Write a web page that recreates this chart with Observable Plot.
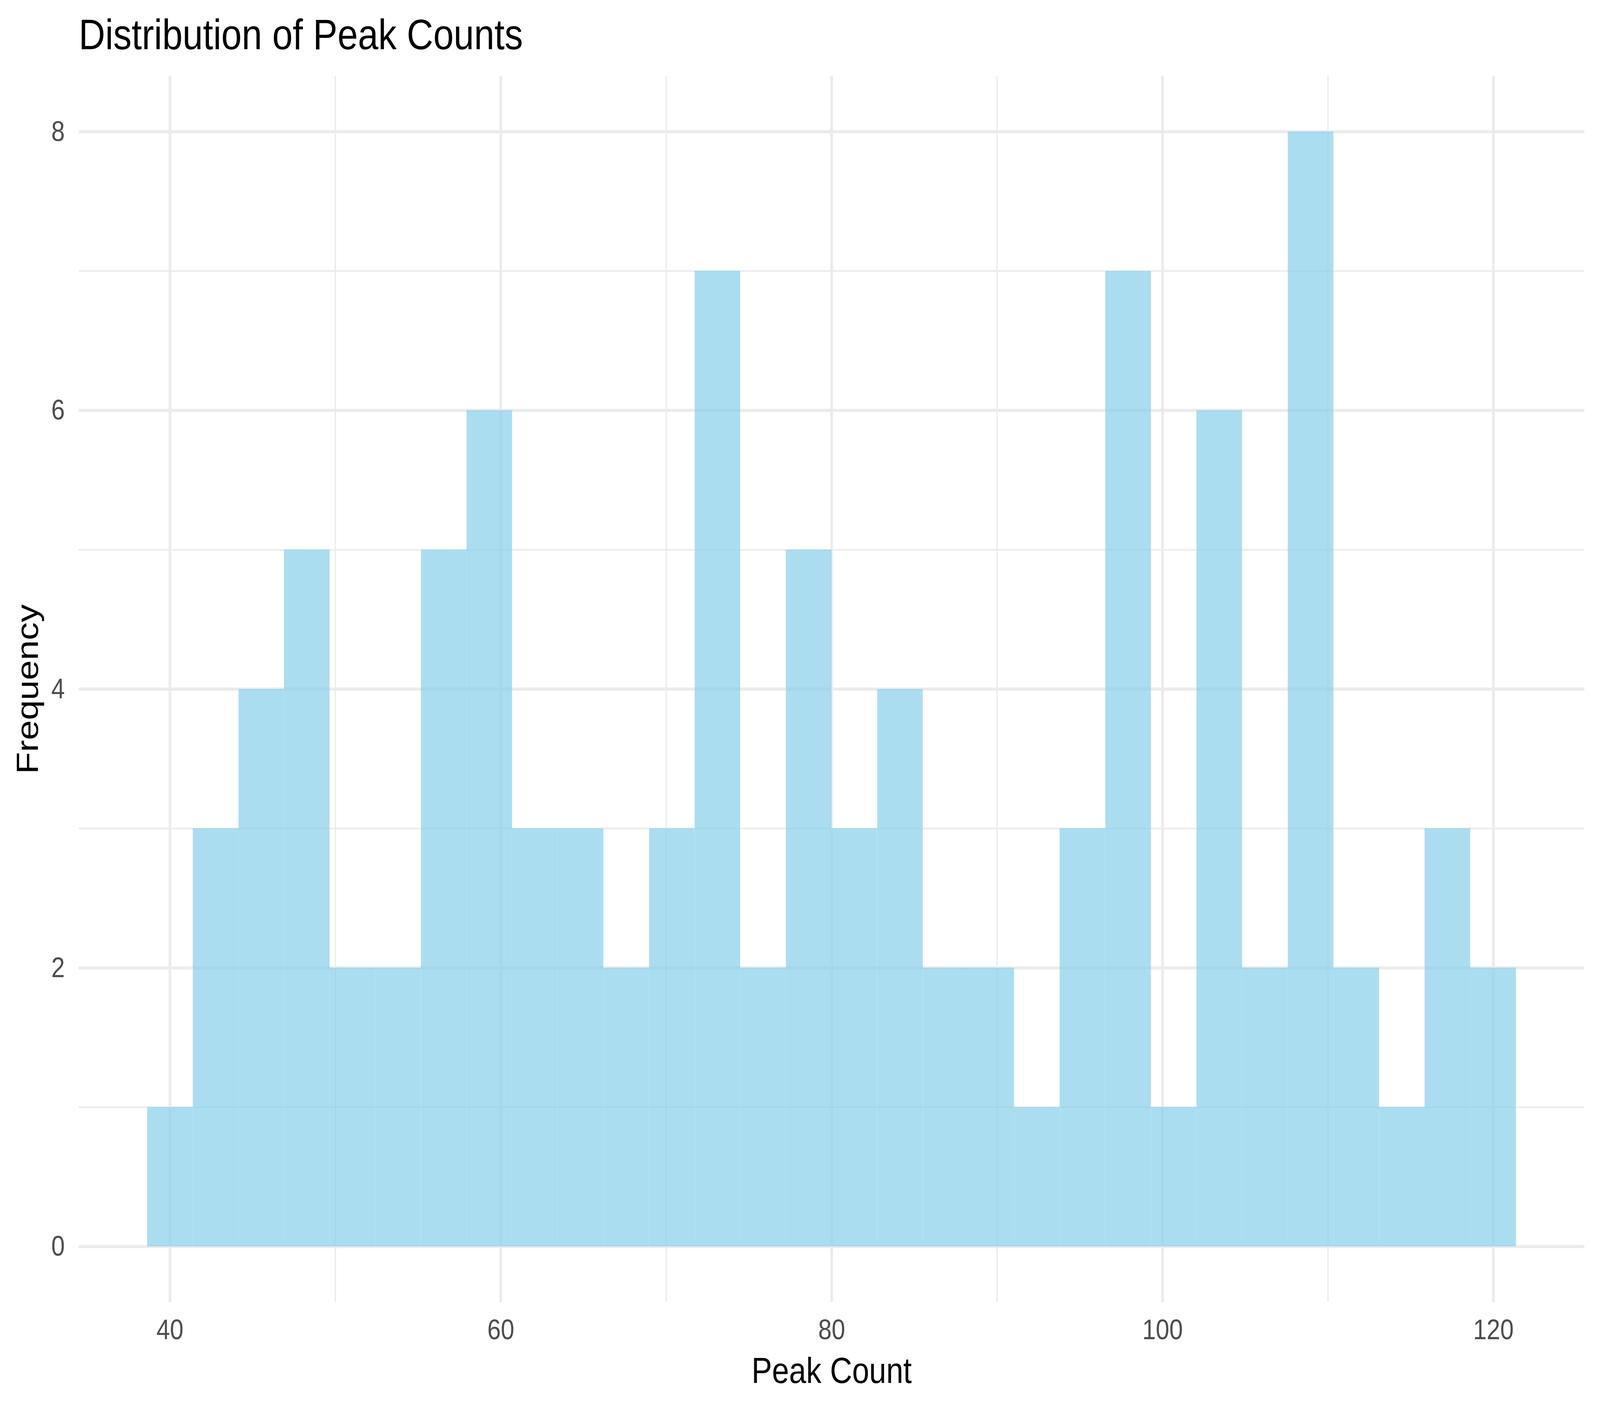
<!DOCTYPE html>
<html>
<head>
<meta charset="utf-8">
<script src="https://cdn.jsdelivr.net/npm/d3@7"></script>
<script src="https://cdn.jsdelivr.net/npm/@observablehq/plot@0.6"></script>
<style>
  html, body { margin: 0; padding: 0; background: #ffffff; overflow: hidden; }
  #page { position: absolute; left: 0; top: 0; width: 4800px; height: 3600px; background: #ffffff; transform-origin: 0 0; }
  #title {
    position: absolute;
    left: 236px;
    top: 33px;
    margin: 0;
    padding: 0;
    font-family: "Liberation Sans", Arial, Helvetica, sans-serif;
    font-size: 110px;
    font-weight: normal;
    line-height: 110px;
    height: 110px;
    color: #000000;
    white-space: nowrap;
  }
  #chart { position: absolute; left: 0; top: 160px; width: 4800px; height: 3440px; }
  #chart svg { display: block; max-width: none; }
</style>
</head>
<body>
<div id="page">
<div id="title"></div>
<div id="chart"></div>
</div>
<script>
// Histogram bin edges (30 bins)
const binEdges = [38.63, 41.39, 44.15, 46.90, 49.66, 52.42, 55.18, 57.94, 60.69, 63.45,
                  66.21, 68.97, 71.73, 74.48, 77.24, 80.00, 82.76, 85.52, 88.27, 91.03,
                  93.79, 96.55, 99.31, 102.06, 104.82, 107.58, 110.34, 113.10, 115.85, 118.61,
                  121.37];
// Frequency of each bin
const binCounts = [1, 3, 4, 5, 2, 2, 5, 6, 3, 3,
                   2, 3, 7, 2, 5, 3, 4, 2, 2, 1,
                   3, 7, 1, 6, 2, 8, 2, 1, 3, 2];
// Tick labels / grid breaks
const xMajorTicks = [40, 60, 80, 100, 120];
const xMinorTicks = [50, 70, 90, 110];
const yMajorTicks = [0, 2, 4, 6, 8];
const yMinorTicks = [1, 3, 5, 7];
const titleText = "Distribution of Peak Counts";
const xLabel = "Peak Count";
const yLabel = "Frequency";

const bins = binCounts.map((count, i) => ({x1: binEdges[i], x2: binEdges[i + 1], count}));

const xMin = d3.min(binEdges), xMax = d3.max(binEdges);
const xPad = (xMax - xMin) * 0.05;
const yMax = d3.max(binCounts);
const yPad = yMax * 0.05;

const font = "Liberation Sans, Arial, Helvetica, sans-serif";
const gridColor = "#EBEBEB";

const chart = Plot.plot({
  width: 4800,
  height: 3440,
  marginTop: 34,
  marginBottom: 266,
  marginLeft: 236,
  marginRight: 47,
  style: {fontFamily: font, background: "#ffffff", color: "#000000"},
  x: {domain: [xMin - xPad, xMax + xPad]},
  y: {domain: [0 - yPad, yMax + yPad]},
  marks: [
    Plot.ruleX(xMinorTicks, {stroke: gridColor, strokeWidth: 4}),
    Plot.ruleY(yMinorTicks, {stroke: gridColor, strokeWidth: 4}),
    Plot.ruleX(xMajorTicks, {stroke: gridColor, strokeWidth: 8}),
    Plot.ruleY(yMajorTicks, {stroke: gridColor, strokeWidth: 8}),
    Plot.rect(bins, {x1: "x1", x2: "x2", y1: 0, y2: "count", fill: "skyblue", fillOpacity: 0.7, inset: 0}),
    Plot.axisX({ticks: xMajorTicks, tickSize: 0, tickPadding: 43, fontSize: 73, fill: "#4D4D4D", label: null}),
    Plot.axisY({ticks: yMajorTicks, tickSize: 0, tickPadding: 42, fontSize: 73, fill: "#4D4D4D", label: null}),
    Plot.text([xLabel], {text: d => d, frameAnchor: "bottom", lineAnchor: "bottom", textAnchor: "middle", dy: 206, fontSize: 92, fill: "#000000"}),
    Plot.text([yLabel], {text: d => d, frameAnchor: "left", lineAnchor: "bottom", textAnchor: "middle", rotate: -90, dx: -123, fontSize: 92, fill: "#000000"})
  ]
});
document.getElementById("title").textContent = titleText;
document.getElementById("chart").appendChild(chart);

// Fit the 4800x3600 layout into the actual viewport
function fit() {
  const w = window.innerWidth || 4800;
  const h = window.innerHeight || 3600;
  document.getElementById("page").style.transform = `scale(${w / 4800}, ${h / 3600})`;
}
fit();
window.addEventListener("resize", fit);
</script>
</body>
</html>
